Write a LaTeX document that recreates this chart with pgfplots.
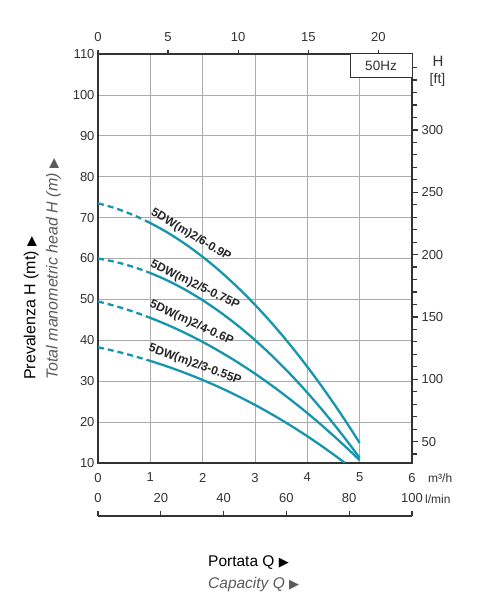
\documentclass[border=0pt]{standalone}
\usepackage{pgfplots}
\pgfplotsset{compat=1.18}
\usepackage{fontspec}
\setmainfont{Liberation Sans}
\newfontfamily\dejavu{DejaVu Sans}
\definecolor{pump}{RGB}{22,150,172}
\definecolor{tick}{RGB}{50,50,50}
\definecolor{subgray}{RGB}{90,90,90}
\newcommand{\tri}{{\dejavu\fontsize{13}{14}\selectfont ▶}}
\tikzset{pc/.style={draw=pump, line width=2.3pt, smooth, tension=0.5, mark=none},
         pd/.style={pc, dash pattern=on 6pt off 4pt}}
\begin{document}
\begin{tikzpicture}[x=1pt,y=1pt]
\path[use as bounding box] (0,0) rectangle (485,600);
% main axis
\begin{axis}[
  at={(98pt,137pt)}, anchor=south west,
  scale only axis, width=314pt, height=409pt,
  xmin=0, xmax=6, ymin=10, ymax=110,
  xtick={0,1,...,6}, ytick={10,20,...,110},
  grid=major, major grid style={line width=0.7pt, color=black!33},
  axis line style={line width=1.3pt, black!80},
  major tick style={draw=none},
  tick label style={font=\fontsize{13}{15}\selectfont, text=tick},
  /pgf/number format/assume math mode=true,
  xticklabel style={yshift=-6.5pt},
]
% 5DW(m)2/6-0.9P
\addplot[pd] coordinates {(0,73.5) (0.25,72.62) (0.5,71.52) (0.75,70.20) (1,68.67)};
\addplot[pc] coordinates {(1,68.67) (1.25,66.93) (1.5,64.97) (1.75,62.79) (2,60.40) (2.25,57.80) (2.5,54.97) (2.75,51.94) (3,48.68) (3.25,45.22) (3.5,41.53) (3.75,37.63) (4,33.52) (4.25,29.19) (4.5,24.65) (4.75,19.89) (5,14.91)};
% 5DW(m)2/5-0.75P
\addplot[pd] coordinates {(0,60) (0.25,59.40) (0.5,58.61) (0.75,57.63) (1,56.45)};
\addplot[pc] coordinates {(1,56.45) (1.25,55.08) (1.5,53.51) (1.75,51.75) (2,49.80) (2.25,47.65) (2.5,45.31) (2.75,42.78) (3,40.05) (3.25,37.13) (3.5,34.01) (3.75,30.70) (4,27.20) (4.25,23.50) (4.5,19.61) (4.75,15.53) (5,11.25)};
% 5DW(m)2/4-0.6P
\addplot[pd] coordinates {(0,49.5) (0.25,48.67) (0.5,47.73) (0.75,46.67) (1,45.49)};
\addplot[pc] coordinates {(1,45.49) (1.25,44.19) (1.5,42.78) (1.75,41.25) (2,39.60) (2.25,37.83) (2.5,35.95) (2.75,33.95) (3,31.84) (3.25,29.60) (3.5,27.25) (3.75,24.78) (4,22.20) (4.25,19.50) (4.5,16.68) (4.75,13.74) (5,10.69)};
% 5DW(m)2/3-0.55P
\addplot[pd] coordinates {(0,38.3) (0.25,37.58) (0.5,36.79) (0.75,35.91) (1,34.96)};
\addplot[pc] coordinates {(1,34.96) (1.25,33.92) (1.5,32.80) (1.75,31.59) (2,30.30) (2.25,28.91) (2.5,27.44) (2.75,25.86) (3,24.20) (3.25,22.43) (3.5,20.57) (3.75,18.61) (4,16.54) (4.25,14.37) (4.5,12.09) (4.72,10.0)};
\end{axis}
% top axis
\begin{axis}[
  at={(98pt,137pt)}, anchor=south west,
  scale only axis, width=314pt, height=409pt,
  xmin=0, xmax=22.4, ymin=0, ymax=1,
  axis x line*=top, axis y line=none,
  xtick={0,5,...,20},
  tick align=outside, major tick length=4pt,
  axis line style={line width=1.3pt, black!80, -},
  tick style={line width=1.2pt, black!80},
  tick label style={font=\fontsize{13}{15}\selectfont, text=tick},
  /pgf/number format/assume math mode=true,
  xticklabel style={yshift=5pt},
]
\end{axis}
% right axis (ft)
\begin{axis}[
  at={(98pt,137pt)}, anchor=south west,
  scale only axis, width=314pt, height=409pt,
  xmin=0, xmax=1, ymin=32.8084, ymax=360.892,
  axis y line*=right, axis x line=none,
  ytick={50,100,...,300}, minor ytick={40,50,...,350},
  tick align=outside, major tick length=6pt, minor tick length=5pt,
  axis line style={line width=1.3pt, black!80, -},
  tick style={line width=1.2pt, black!80},
  tick label style={font=\fontsize{13}{15}\selectfont, text=tick},
  /pgf/number format/assume math mode=true,
]
\end{axis}
% bottom l/min axis
\begin{axis}[
  at={(98pt,83pt)}, anchor=south west,
  scale only axis, width=314pt, height=1pt,
  xmin=0, xmax=100, ymin=0, ymax=1,
  axis x line*=top, axis y line=none,
  xtick={0,20,...,100},
  tick align=outside, major tick length=5pt,
  axis line style={line width=1.3pt, black!80, -},
  tick style={line width=1.2pt, black!80},
  tick label style={font=\fontsize{13}{15}\selectfont, text=tick},
  /pgf/number format/assume math mode=true,
  xticklabel style={yshift=4.5pt},
]
\end{axis}
% 50Hz box
\draw[fill=white, draw=black!80, line width=1pt] (350,522) rectangle (412,546);
\node[font=\fontsize{13.5}{15}\selectfont, text=tick] at (381,534) {50Hz};
% right axis title
\node[font=\fontsize{15}{17}\selectfont, text=tick] at (438,538.5) {H};
\node[font=\fontsize{14}{16}\selectfont, text=tick] at (437.5,520.5) {[ft]};
% unit labels
\node[anchor=base west, inner sep=0, font=\fontsize{12}{14}\selectfont, text=tick] at (428,117.5) {m³/h};
\node[anchor=base west, inner sep=0, font=\fontsize{12}{14}\selectfont, text=tick] at (425,96) {l/min};
% curve labels
\begin{scope}[every node/.style={font=\bfseries\fontsize{12}{14}\selectfont, text=black!85, inner sep=0}]
\node[rotate=-30.8] at (191,365) {5DW(m)2/6-0.9P};
\node[rotate=-26.3] at (195,315) {5DW(m)2/5-0.75P};
\node[rotate=-24.8] at (191.5,277) {5DW(m)2/4-0.6P};
\node[rotate=-20] at (195,235.5) {5DW(m)2/3-0.55P};
\end{scope}
% axis titles
\node[rotate=90, anchor=base west, inner sep=0, font=\fontsize{16}{18}\selectfont] at (35.5,220) {Prevalenza H (mt) \tri};
\node[rotate=90, anchor=base west, inner sep=0, font=\itshape\fontsize{16}{18}\selectfont, text=subgray] at (57.5,220) {Total manometric head H (m) {\color{subgray}\tri}};
\node[anchor=base west, inner sep=0, font=\fontsize{15.5}{17}\selectfont] at (208,34) {Portata Q \tri};
\node[anchor=base west, inner sep=0, font=\itshape\fontsize{15.5}{17}\selectfont, text=subgray] at (208,12) {Capacity Q \tri};
\end{tikzpicture}
\end{document}
